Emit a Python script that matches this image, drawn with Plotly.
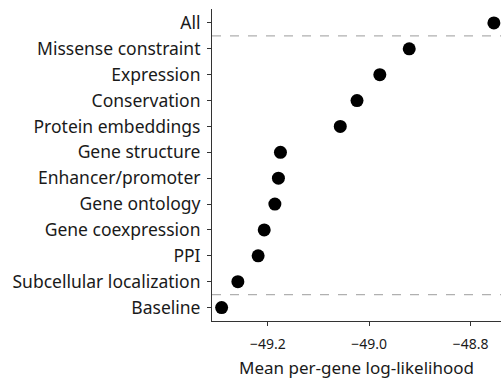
import plotly.graph_objects as go

# Feature sets, listed top to bottom
categories = [
    "All",
    "Missense constraint",
    "Expression",
    "Conservation",
    "Protein embeddings",
    "Gene structure",
    "Enhancer/promoter",
    "Gene ontology",
    "Gene coexpression",
    "PPI",
    "Subcellular localization",
    "Baseline",
]
log_likelihood = [
    -48.754, -48.921, -48.979, -49.024, -49.057, -49.175,
    -49.179, -49.186, -49.207, -49.219, -49.259, -49.291,
]
x_tick_values = [-49.2, -49.0, -48.8]
x_tick_labels = ["\u221249.2", "\u221249.0", "\u221248.8"]

n = len(categories)
y_pos = [n - 1 - i for i in range(n)]

font_family = "Noto Sans, sans-serif"

fig = go.Figure()
fig.add_trace(go.Scatter(
    x=log_likelihood,
    y=y_pos,
    mode="markers",
    marker=dict(size=13, color="black"),
    showlegend=False,
))

# Separators between the full model, single feature sets and the baseline
for y_sep in (n - 1.5, 0.5):
    fig.add_shape(
        type="line", xref="paper", x0=0, x1=1, yref="y", y0=y_sep, y1=y_sep,
        line=dict(color="#b0b0b0", width=1.2, dash="dash"), layer="below",
    )

fig.update_layout(
    width=501, height=379,
    margin=dict(l=212, r=0, t=9, b=58),
    plot_bgcolor="white",
    paper_bgcolor="white",
    font=dict(family=font_family, size=16, color="#1a1a1a"),
    xaxis=dict(
        range=[-49.31, -48.74],
        tickvals=x_tick_values,
        ticktext=x_tick_labels,
        ticks="outside", ticklen=4, tickcolor="#333", tickwidth=1,
        showline=True, linecolor="#333", linewidth=1,
        showgrid=False, zeroline=False,
        tickfont=dict(size=14),
        ticklabelstandoff=6,
        title=dict(text="Mean per-gene log-likelihood", font=dict(size=17), standoff=10),
    ),
    yaxis=dict(
        range=[-0.52, n - 1 + 0.54],
        tickvals=y_pos,
        ticktext=categories,
        ticks="outside", ticklen=4, tickcolor="#333", tickwidth=1,
        showline=True, linecolor="#333", linewidth=1,
        showgrid=False, zeroline=False,
        tickfont=dict(size=17.5),
        ticklabelstandoff=3,
    ),
)

fig.write_html("out.html")
